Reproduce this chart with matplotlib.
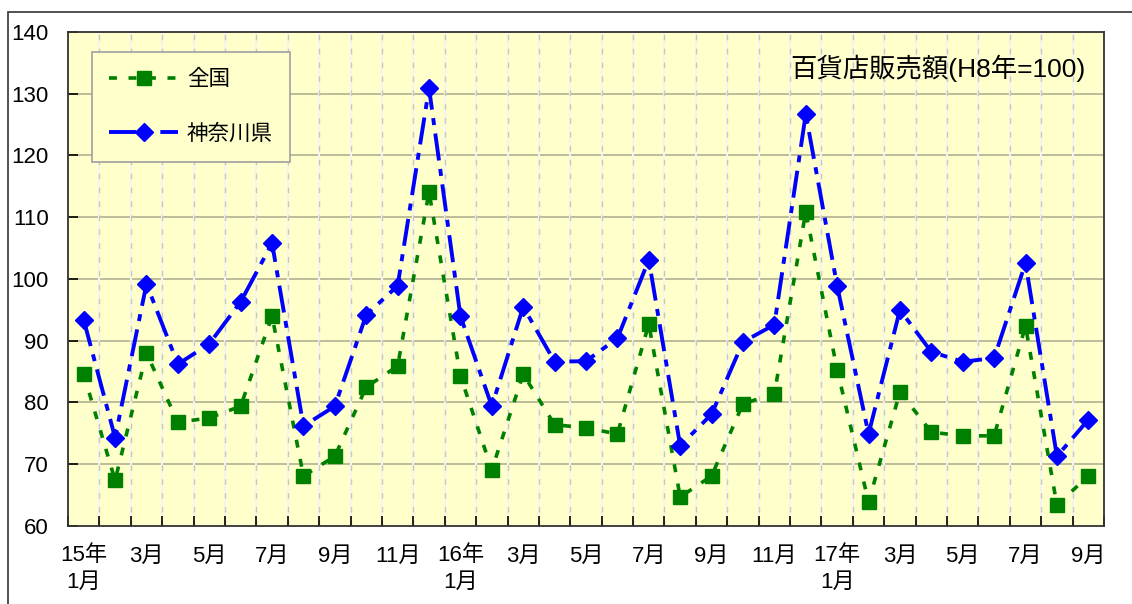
import matplotlib
matplotlib.use("Agg")
import matplotlib.pyplot as plt
from matplotlib.patches import Rectangle
import numpy as np

plt.rcParams['font.family'] = ['Liberation Sans', 'Noto Sans CJK JP', 'DejaVu Sans']

months = ["15年\n1月", "", "3月", "", "5月", "", "7月", "", "9月", "", "11月", "",
          "16年\n1月", "", "3月", "", "5月", "", "7月", "", "9月", "", "11月", "",
          "17年\n1月", "", "3月", "", "5月", "", "7月", "", "9月"]
zenkoku = [84.6, 67.4, 88.0, 76.8, 77.5, 79.4, 94.0, 68.1, 71.3, 82.5, 85.9, 114.1,
           84.3, 69.1, 84.6, 76.4, 75.9, 74.9, 92.7, 64.7, 68.1, 79.8, 81.4, 110.9,
           85.3, 63.9, 81.7, 75.2, 74.6, 74.6, 92.4, 63.4, 68.1]
kanagawa = [93.4, 74.3, 99.2, 86.2, 89.5, 96.3, 105.8, 76.2, 79.4, 94.2, 98.9, 130.9,
            94.0, 79.4, 95.5, 86.6, 86.7, 90.4, 103.1, 73.0, 78.1, 89.8, 92.6, 126.7,
            98.9, 74.9, 95.0, 88.2, 86.6, 87.2, 102.6, 71.3, 77.2]
series_names = ["全国", "神奈川県"]
title_text = "百貨店販売額(H8年=100)"

fig = plt.figure(figsize=(11.32, 6.04), dpi=100)
W, H = 1132, 604
ax = fig.add_axes([68 / W, 1 - 526 / H, (1104 - 68) / W, (526 - 32) / H])
ax.set_facecolor("#FFFFCC")

# outer frame
fig.patches.append(Rectangle((8 / W, -0.05), 1.2, 1 - 12 / H + 0.05,
                             transform=fig.transFigure, fill=False,
                             edgecolor="#333333", linewidth=1.2, zorder=0))

n = len(zenkoku)
x = np.arange(n)

ax.set_xlim(-0.5, n - 0.5)
ax.set_ylim(60, 140)

# grid
for yv in range(70, 140, 10):
    ax.axhline(yv, color="#B0B090", linewidth=1.2, zorder=1)
for b in np.arange(0.5, n - 0.5, 1):
    ax.axvline(b, color="#F5F5F0", linewidth=1.5, zorder=1)
    ax.axvline(b, color="#C8C8C0", linewidth=1.0, linestyle=(0, (4, 6)), zorder=1)

ax.plot(x, zenkoku, color="#008000", linewidth=2.6, linestyle=(0, (2.2, 3.2)),
        marker="s", markersize=10, markerfacecolor="#008000", markeredgecolor="#008000",
        label=series_names[0], zorder=3)
ax.plot(x, kanagawa, color="#0000FF", linewidth=2.8, linestyle=(0, (7, 2.2, 1.8, 2.2)),
        marker="D", markersize=9.5, markerfacecolor="#0000FF", markeredgecolor="#0000FF",
        label=series_names[1], zorder=4)

ax.set_yticks(range(60, 141, 10))
ax.tick_params(axis="y", direction="in", length=7, labelsize=16, pad=14, width=1.2)
ax.set_xticks(np.arange(-0.5, n, 1))
ax.set_xticklabels([])
ax.tick_params(axis="x", which="major", direction="in", length=7, width=1.2)
ax.set_xticks(x, minor=True)
ax.set_xticklabels(months, minor=True, fontsize=16, linespacing=1.32)
ax.tick_params(axis="x", which="minor", length=0, pad=14)

for s in ax.spines.values():
    s.set_color("#333333")
    s.set_linewidth(1.3)

leg = ax.legend(loc="upper left", bbox_to_anchor=(24 / 1036, 1 - 20 / 494),
                frameon=True, fancybox=False, fontsize=15.5, handlelength=3.2,
                borderpad=0.8, labelspacing=1.55, handletextpad=0.4, borderaxespad=0)
leg.get_frame().set_facecolor("#FFFFCC")
leg.get_frame().set_edgecolor("#A0A0A0")
leg.get_frame().set_linewidth(1.2)
leg.get_frame().set_alpha(1)

ax.text(0.982, 0.927, title_text, transform=ax.transAxes, ha="right", va="center",
        fontsize=19)

fig.savefig("out.png", dpi=100)
